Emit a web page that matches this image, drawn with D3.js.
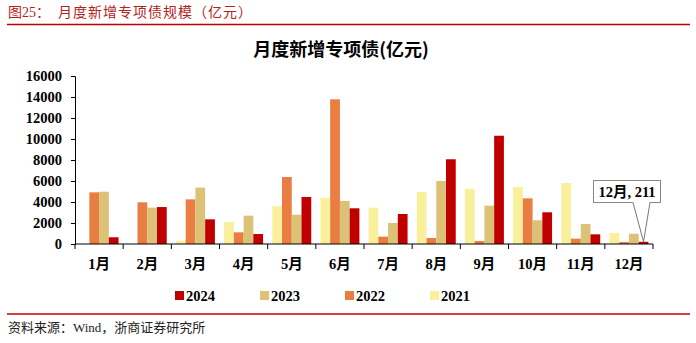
<!DOCTYPE html>
<html><head><meta charset="utf-8">
<script src="https://cdn.jsdelivr.net/npm/d3@7"></script>
<style>body{margin:0;background:#fff}svg{display:block}</style>
</head><body>
<svg id="c" width="696" height="343"></svg>
<script>
const months = ["1月","2月","3月","4月","5月","6月","7月","8月","9月","10月","11月","12月"];
const years = ["2021","2022","2023","2024"];
const legendOrder = ["2024","2023","2022","2021"];
const v2021 = [0,0,320,2100,3590,4380,3460,4950,5270,5430,5810,1050];
const v2022 = [4920,3970,4250,1110,6380,13780,700,570,290,4350,510,190];
const v2023 = [4980,3460,5370,2700,2790,4100,2000,6000,3650,2260,1900,980];
const v2024 = [640,3520,2350,950,4480,3400,2860,8070,10310,3020,920,211];
const yTicks = [0,2000,4000,6000,8000,10000,12000,14000,16000];
const colors = {"2021":"#FAF09B","2022":"#E97D42","2023":"#DBC277","2024":"#C00000"};
const series = {"2021":v2021,"2022":v2022,"2023":v2023,"2024":v2024};

const svg = d3.select("#c");
const serif = "'Liberation Serif','Times New Roman','Noto Sans CJK SC',serif";
const red = "#C00000";

// header
svg.append("text").attr("x",8).attr("y",17).attr("fill","#B22222")
  .style("font-family",serif).style("font-size","14px")
  .text("图25：");
svg.append("text").attr("x",58).attr("y",17).attr("fill","#B22222")
  .style("font-family","'Noto Sans CJK SC',sans-serif").style("font-size","14px").style("letter-spacing","1px")
  .text("月度新增专项债规模（亿元）");
svg.append("line").attr("x1",7).attr("x2",690).attr("y1",24.5).attr("y2",24.5)
  .attr("stroke",red).attr("stroke-width",1.5);

// title
svg.append("text").attr("x",341).attr("y",56).attr("text-anchor","middle")
  .style("font-family","'Noto Sans CJK SC',sans-serif").style("font-size","18px").style("font-weight","bold")
  .text("月度新增专项债(亿元)");

const x0 = d3.scaleBand().domain(months).range([75,653]).paddingInner(0).paddingOuter(0);
const x1 = d3.scaleBand().domain(years).range([4.6, x0.bandwidth()-4.6]).padding(0);
const y = d3.scaleLinear().domain([0,16000]).range([244,76]);

// bars
const g = svg.append("g");
months.forEach((m,i)=>{
  years.forEach(yr=>{
    const v = series[yr][i];
    if (v<=0) return;
    g.append("rect").attr("x",x0(m)+x1(yr)).attr("width",x1.bandwidth())
      .attr("y",y(v)).attr("height",y(0)-y(v)).attr("fill",colors[yr]);
  });
});

// y axis
const ya = svg.append("g").attr("transform","translate(75,0)")
  .call(d3.axisLeft(y).tickValues(yTicks).tickSize(4).tickPadding(9).tickFormat(d3.format("d")));
ya.selectAll("text").style("font-family",serif).style("font-size","14.5px").style("font-weight","bold").attr("fill","#000");
ya.selectAll("line,path").attr("stroke","#000");

// x axis
const xa = svg.append("g").attr("transform","translate(0,244)");
xa.append("line").attr("x1",75).attr("x2",653).attr("y1",0).attr("y2",0).attr("stroke","#000");
const bounds = months.map(m=>x0(m)).concat([x0.range()[1]]);
xa.selectAll("line.t").data(bounds).enter().append("line")
  .attr("x1",d=>d).attr("x2",d=>d).attr("y1",0).attr("y2",5).attr("stroke","#000");
xa.selectAll("text").data(months).enter().append("text")
  .attr("x",d=>x0(d)+x0.bandwidth()/2).attr("y",25).attr("text-anchor","middle")
  .style("font-family",serif).style("font-size","14.5px").style("font-weight","bold")
  .text(d=>d);

// annotation
const dx = x0("12月")+x1("2024")+x1.bandwidth()/2, dy = y(211);
svg.append("path").attr("d",`M633,202.5 L${dx},${dy} L650,202.5`).attr("fill","none").attr("stroke","#777").attr("stroke-width",1);
svg.append("rect").attr("x",593.5).attr("y",180.5).attr("width",67).attr("height",22)
  .attr("fill","#fff").attr("stroke","#888").attr("stroke-width",1);
svg.append("line").attr("x1",633.5).attr("x2",649.5).attr("y1",202.5).attr("y2",202.5).attr("stroke","#fff").attr("stroke-width",1.5);
svg.append("text").attr("x",627).attr("y",197).attr("text-anchor","middle")
  .style("font-family",serif).style("font-size","14.5px").style("font-weight","bold")
  .text("12月, "+v2024[11]);

// legend
legendOrder.forEach((yr,i)=>{
  const lx = 175 + i*85;
  svg.append("rect").attr("x",lx).attr("y",291).attr("width",9).attr("height",9).attr("fill",colors[yr]);
  svg.append("text").attr("x",lx+11).attr("y",300.5)
    .style("font-family",serif).style("font-size","14.5px").style("font-weight","bold").text(yr);
});

// footer
svg.append("line").attr("x1",7).attr("x2",690).attr("y1",314).attr("y2",314).attr("stroke",red).attr("stroke-width",1.5);
svg.append("text").attr("x",8).attr("y",332).attr("fill","#222")
  .style("font-family",serif).style("font-size","13px")
  .text("资料来源：Wind，浙商证券研究所");
</script>
</body></html>
